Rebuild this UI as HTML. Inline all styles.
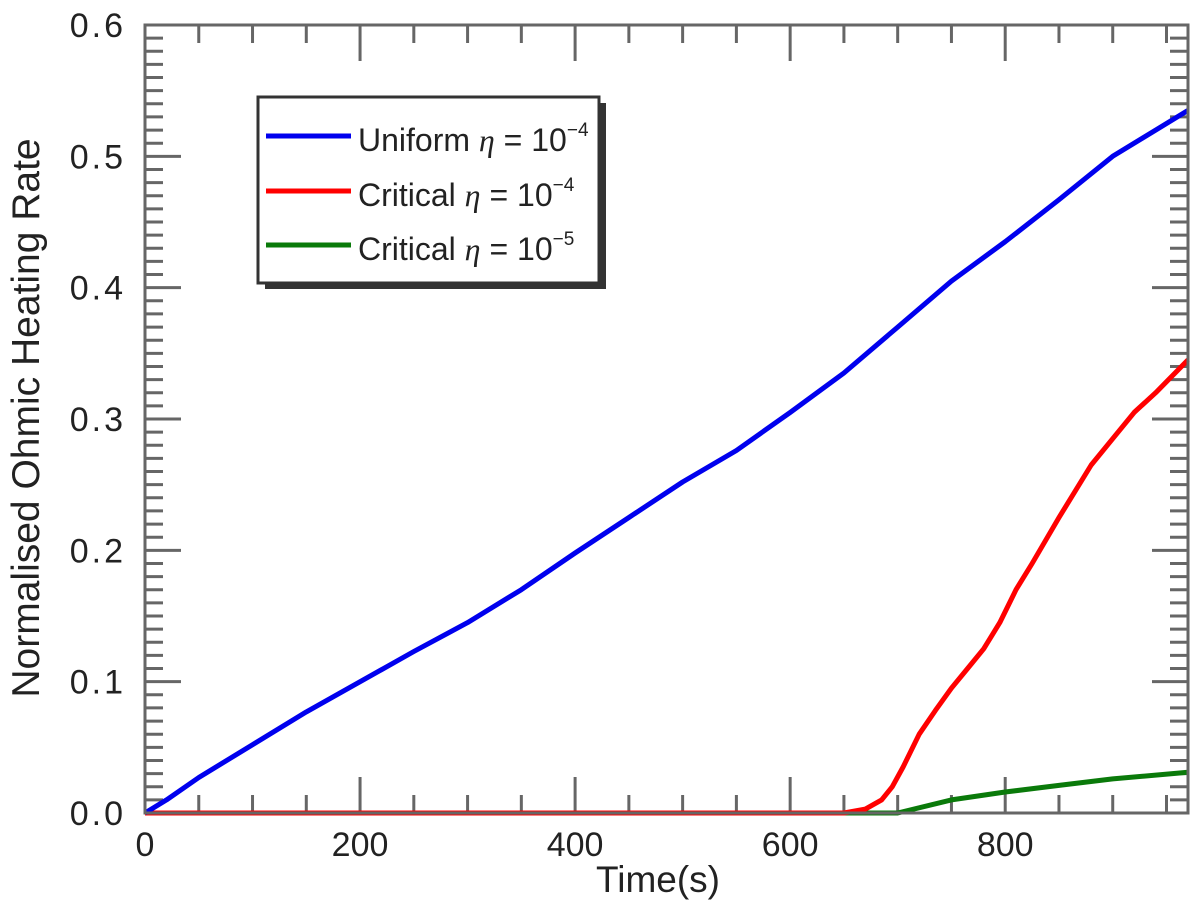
<!DOCTYPE html>
<html><head><meta charset="utf-8"><style>
body{margin:0;background:#fff;}
text{font-family:"Liberation Sans",sans-serif;fill:#222;}
</style></head><body>
<svg width="1200" height="912" viewBox="0 0 1200 912">
<g id="plot"></g>
</svg>
<script>
const xTicks=[0,200,400,600,800];
const yTicks=[0.0,0.1,0.2,0.3,0.4,0.5,0.6];
const yTickLabels=["0.0","0.1","0.2","0.3","0.4","0.5","0.6"];
const blueX=[0,20,50,100,150,200,250,300,350,400,450,500,550,600,650,700,750,800,850,900,970];
const blueY=[0,0.01,0.027,0.052,0.077,0.1,0.123,0.145,0.17,0.198,0.225,0.252,0.276,0.305,0.335,0.37,0.405,0.435,0.467,0.5,0.535];
const redX=[0,650,670,685,695,705,720,735,750,765,780,795,810,825,850,880,900,920,940,970];
const redY=[0,0,0.003,0.01,0.02,0.035,0.06,0.078,0.095,0.11,0.125,0.145,0.17,0.19,0.225,0.265,0.285,0.305,0.32,0.345];
const greenX=[0,700,750,800,850,900,970];
const greenY=[0,0,0.01,0.016,0.021,0.026,0.031];
const L=145,R=1188,T=25,B=813,XMAX=970,YMAX=0.6;
const sx=v=>L+v/XMAX*(R-L), sy=v=>B-v/YMAX*(B-T);
const NS="http://www.w3.org/2000/svg";
const g=document.getElementById('plot');
function mk(t,a,p){const e=document.createElementNS(NS,t);for(const k in a)e.setAttribute(k,a[k]);(p||g).appendChild(e);return e;}
for(let v=0;v<=XMAX;v+=50){const maj=v%200===0;const len=maj?36:18;
 let t=mk('line',{x1:sx(v),x2:sx(v),y1:B,y2:B-len,stroke:'#666','stroke-width':3});
 
 
 t=mk('line',{x1:sx(v),x2:sx(v),y1:T,y2:T+len,stroke:'#666','stroke-width':3});
 
 }
for(let i=0;i<=60;i++){const v=i/100;const maj=i%10===0;const len=maj?36:18;
 let t=mk('line',{x1:L,x2:L+len,y1:sy(v),y2:sy(v),stroke:'#666','stroke-width':3});
 
 
 t=mk('line',{x1:R,x2:R-len,y1:sy(v),y2:sy(v),stroke:'#666','stroke-width':3});
 
 }
xTicks.forEach(v=>{const t=mk('text',{x:sx(v),y:856,'font-size':34,'text-anchor':'middle'});t.textContent=v;
 
 });
yTicks.forEach((v,i)=>{const t=mk('text',{x:126,y:sy(v)+12,'font-size':34,'text-anchor':'end','letter-spacing':3});t.textContent=yTickLabels[i];
 
 });
function series(xs,ys,c,name){const d=xs.map((x,i)=>(i?'L':'M')+sx(x).toFixed(1)+','+sy(ys[i]).toFixed(1)).join(' ');
 const p=mk('path',{d:d,fill:'none',stroke:c,'stroke-width':5,'stroke-linejoin':'round'});
 
 }
series(greenX,greenY,'#0a7a0a','series-critical-1e-5');
series(redX,redY,'#ff0000','series-critical-1e-4');
series(blueX,blueY,'#0000ee','series-uniform-1e-4');
const frame=mk('rect',{x:L,y:T,width:R-L,height:B-T,fill:'none',stroke:'#666','stroke-width':3});


const xt=mk('text',{x:658,y:892,'font-size':37,'text-anchor':'middle'});xt.textContent='Time(s)';


const yt=mk('text',{x:0,y:0,'font-size':39,'text-anchor':'middle',transform:'translate(39,418) rotate(-90)'});yt.textContent='Normalised Ohmic Heating Rate';


</script>
<svg width="1200" height="912" style="position:absolute;left:0;top:0">
<rect x="265" y="103" width="341" height="186" fill="#333"/>
<rect x="258" y="97" width="341" height="186" fill="#fff" stroke="#333" stroke-width="3"/>
<g>
<line x1="266" y1="136" x2="351" y2="136" stroke="#0000ee" stroke-width="5"/>
<text x="358" y="151" font-size="32">Uniform <tspan font-family="Liberation Serif" font-style="italic">η</tspan> = 10<tspan dy="-15" font-size="19">−4</tspan></text></g>
<g>
<line x1="266" y1="191" x2="351" y2="191" stroke="#ff0000" stroke-width="5"/>
<text x="358" y="206" font-size="32">Critical <tspan font-family="Liberation Serif" font-style="italic">η</tspan> = 10<tspan dy="-15" font-size="19">−4</tspan></text></g>
<g>
<line x1="266" y1="245" x2="351" y2="245" stroke="#0a7a0a" stroke-width="5"/>
<text x="358" y="260" font-size="32">Critical <tspan font-family="Liberation Serif" font-style="italic">η</tspan> = 10<tspan dy="-15" font-size="19">−5</tspan></text></g>
</svg>
</body></html>
